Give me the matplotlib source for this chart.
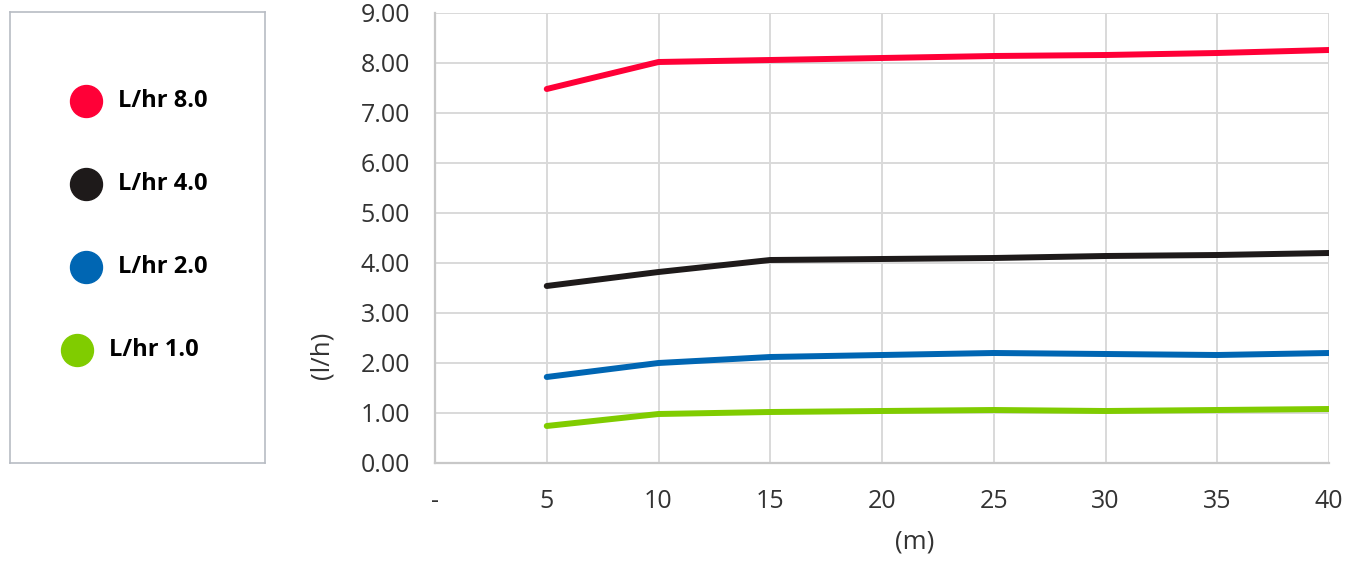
import matplotlib.pyplot as plt

# data
distance = [5, 10, 15, 20, 25, 30, 35, 40]
flow_8 = [7.48, 8.02, 8.06, 8.10, 8.14, 8.16, 8.20, 8.26]
flow_4 = [3.54, 3.82, 4.06, 4.08, 4.10, 4.14, 4.16, 4.20]
flow_2 = [1.72, 2.00, 2.12, 2.16, 2.20, 2.18, 2.16, 2.20]
flow_1 = [0.74, 0.98, 1.02, 1.04, 1.06, 1.04, 1.06, 1.08]

labels = ["L/hr 8.0", "L/hr 4.0", "L/hr 2.0", "L/hr 1.0"]
colors = ["#ff0037", "#1e1a1a", "#0066b3", "#80cc00"]
series = [flow_8, flow_4, flow_2, flow_1]

x_ticks = [0, 5, 10, 15, 20, 25, 30, 35, 40]
x_tick_labels = ["-", "5", "10", "15", "20", "25", "30", "35", "40"]
y_ticks = [0, 1, 2, 3, 4, 5, 6, 7, 8, 9]

plt.rcParams['font.family'] = ['Open Sans', 'DejaVu Sans']

fig = plt.figure(figsize=(13.48, 5.62), dpi=100)

# -------------------------------
# main chart
# -------------------------------
ax = fig.add_axes([435/1348, 99/562, 894/1348, 450/562])
for vals, col in zip(series, colors):
    ax.plot(distance, vals, color=col, linewidth=4.3, solid_capstyle='round')

ax.set_xlim(0, 40)
ax.set_ylim(0, 9)
ax.set_xticks(x_ticks)
ax.set_xticklabels(x_tick_labels)
ax.set_yticks(y_ticks)
ax.set_yticklabels([f"{v:.2f}" for v in y_ticks])
ax.tick_params(length=0, labelsize=18, colors='#333333', pad=19)
ax.tick_params(axis='y', pad=18)
ax.grid(color='#d9d9d9', linewidth=1.4)
ax.set_axisbelow(True)
for side in ['top', 'right']:
    ax.spines[side].set_visible(False)
for side in ['left', 'bottom']:
    ax.spines[side].set_color('#c8c8c8')
    ax.spines[side].set_linewidth(1.6)

ax.set_xlabel("(m)", fontsize=18.5, color='#333333')
ax.set_ylabel("(l/h)", fontsize=18.5, color='#333333')
ax.xaxis.set_label_coords(0.537, -0.148)
ax.yaxis.set_label_coords(-0.112, 0.24)

# -------------------------------
# legend box on the left
# -------------------------------
leg = fig.add_axes([10/1348, 99/562, 255/1348, 451/562])
leg.set_xlim(0, 1)
leg.set_ylim(0, 1)
leg.set_xticks([])
leg.set_yticks([])
for s in leg.spines.values():
    s.set_color('#b8bcc4')
    s.set_linewidth(1.2)

for i, (lab, col) in enumerate(zip(labels, colors)):
    y = 0.803 - i * 0.184
    dx = -0.035 if i == 3 else 0
    leg.plot([0.298 + dx], [y], 'o', color=col, markersize=23)
    leg.text(0.424 + dx, y, lab, fontsize=17, fontweight='bold',
             va='center', ha='left', color='#000000')

plt.savefig("out.png")
